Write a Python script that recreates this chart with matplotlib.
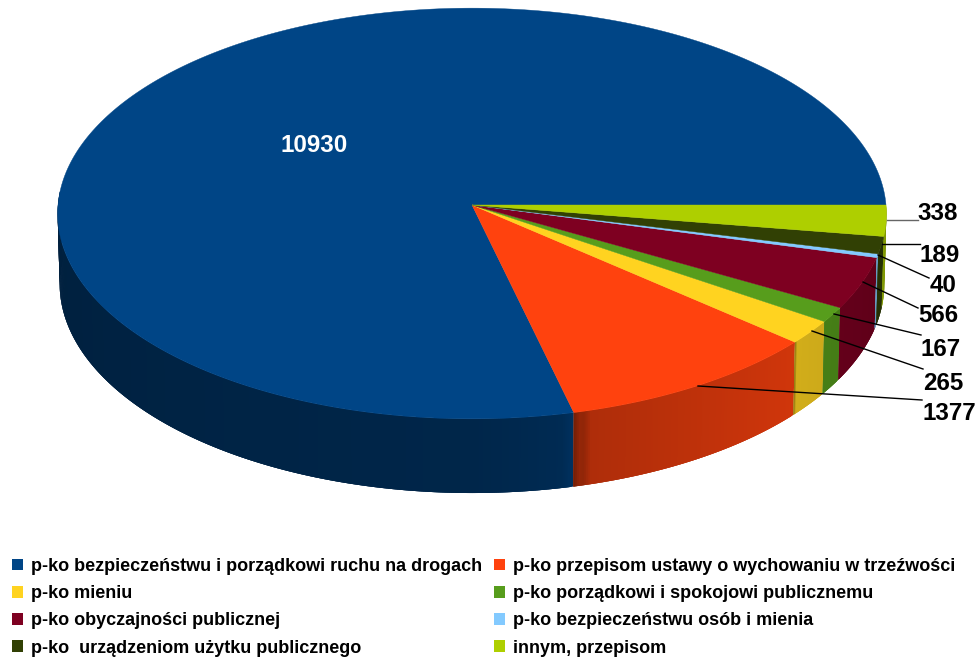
import numpy as np
from matplotlib import pyplot as plt
from matplotlib.colors import to_rgb
from matplotlib.patches import Patch, Polygon

plt.rcParams['font.family'] = ['Liberation Sans', 'DejaVu Sans']

categories = ['p-ko bezpieczeństwu i porządkowi ruchu na drogach',
              'p-ko przepisom ustawy o wychowaniu w trzeźwości',
              'p-ko mieniu',
              'p-ko porządkowi i spokojowi publicznemu',
              'p-ko obyczajności publicznej',
              'p-ko bezpieczeństwu osób i mienia',
              'p-ko  urządzeniom użytku publicznego',
              'innym, przepisom']
values = [10930, 1377, 265, 167, 566, 40, 189, 338]
colors = ['#004586', '#ff420e', '#ffd320', '#579d1c', '#7e0021', '#83caff', '#314004', '#aecf00']
rim_width = [0, 2.4, 0.5, 0, 0, 0, 0, 0]

# where the value labels and their leader lines sit, in pixels
label_pos = [(314, 145), (949, 414), (943, 384), (941, 350), (938, 316), (943, 285), (940, 256), (938, 213)]
leaders = [None,
           [(698, 386), (922, 400)],
           [(812, 331), (923, 369)],
           [(834, 314), (921, 335)],
           [(863, 282), (918, 308)],
           [(878, 255), (929, 278)],
           [(882, 244), (920, 244)],
           [(887, 220), (918, 220)]]

CX, CY = 472, 205
K = 0.0414  # perspective of the tilted disc


def top_xy(deg):
    t = np.radians(deg)
    d = 1 - K * np.sin(t)
    return CX + 414 * np.cos(t) / d, CY + 205 * np.sin(t) / d


def bottom_xy(deg):
    t = np.radians(deg)
    d = 1 - K * np.sin(t)
    return CX + 412 * np.cos(t) / d, CY + 70 + 209 * np.sin(t) / d


def wall_shade(deg, end, rim):
    f = np.interp(deg, [0, 40, 75.2, 75.3, 78, 90, 180], [0.72, 0.82, 0.68, 0.78, 0.62, 0.55, 0.46])
    if rim > 0 and end - deg < rim:
        # dark rim where the wall meets the next slice
        f *= np.interp(end - deg, [0, rim], [0.62, 1])
    return f


fig = plt.figure(figsize=(9.78, 6.59), dpi=100)
ax = fig.add_axes([0, 0, 1, 1])
ax.set_xlim(0, 978)
ax.set_ylim(659, 0)
ax.axis('off')

# slices run clockwise from east, the last in the list comes first
ends = (np.cumsum(values[::-1]) / sum(values) * 360)[::-1]
starts = np.append(ends[1:], 0)

# side wall, each strip overlaps the next so no seams show
for v_start, v_end, col, rim in zip(starts, ends, colors, rim_width):
    base = np.array(to_rgb(col))
    a = v_start
    stop = min(v_end, 184)
    while a < stop:
        b = min(a + 0.25, stop)
        over = min(b + 0.5, stop)
        arc = np.linspace(a, over, 4)
        xt, yt = top_xy(arc)
        xb, yb = bottom_xy(arc[::-1])
        pts = list(zip(xt, yt)) + list(zip(xb, yb))
        ax.add_patch(Polygon(pts, closed=True, facecolor=base * wall_shade((a + b) / 2, v_end, rim),
                             edgecolor='none', zorder=1))
        a = b

# top of the disc
for v_start, v_end, col in zip(starts, ends, colors):
    th = np.linspace(v_start, v_end, 300)
    xs, ys = top_xy(th)
    pts = [(CX, CY)] + list(zip(xs, ys))
    ax.add_patch(Polygon(pts, closed=True, facecolor=col, edgecolor=col, linewidth=0.3, zorder=2))

for val, pos, lead in zip(values, label_pos, leaders):
    if lead is not None:
        line_col = '#666666' if val == values[-1] else 'black'
        ax.plot([lead[0][0], lead[1][0]], [lead[0][1], lead[1][1]], color=line_col, lw=1, zorder=3)
    ax.text(pos[0], pos[1], str(val), ha='center', va='center', fontsize=17.4, fontweight='bold',
            color='white' if val == values[0] else 'black', zorder=4)

handles = [Patch(facecolor=c, edgecolor='none') for c in colors]
order = [0, 2, 4, 6, 1, 3, 5, 7]
leg = ax.legend([handles[i] for i in order], [categories[i] for i in order],
                ncol=2, loc='upper left', bbox_to_anchor=(12 / 978, 1 - 558 / 659),
                frameon=False, borderpad=0, borderaxespad=0,
                handlelength=0.62, handleheight=0.62, handletextpad=0.44,
                labelspacing=0.565, columnspacing=0.66,
                prop={'size': 13.0, 'weight': 'bold'})

fig.savefig('out.png', dpi=100)
